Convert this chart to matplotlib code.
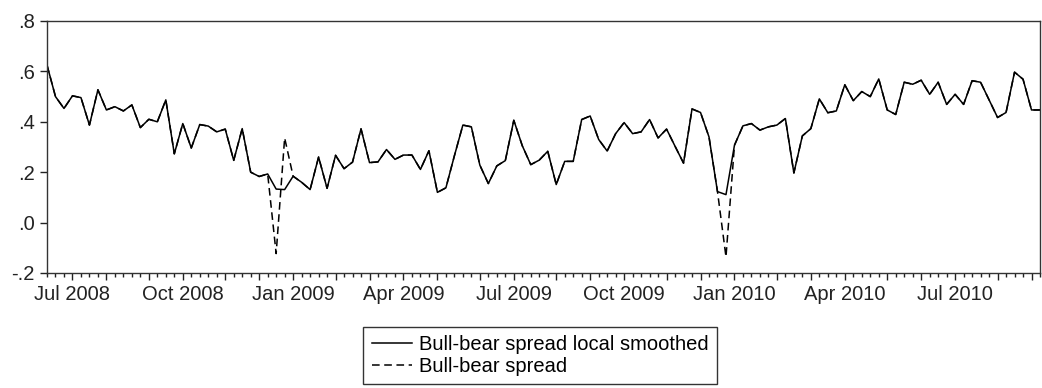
import numpy as np
import pandas as pd
import matplotlib
matplotlib.use("Agg")
import matplotlib.pyplot as plt

plt.rcParams['font.family'] = ['Liberation Sans', 'DejaVu Sans']

# weekly observations, first one on Friday 13 June 2008
start_date = '2008-06-13'
n_obs = 118

# local smoothed bull-bear spread
smoothed = [
    0.625, 0.500, 0.453, 0.503, 0.496, 0.387, 0.527, 0.447, 0.460, 0.443,
    0.467, 0.377, 0.410, 0.400, 0.487, 0.273, 0.393, 0.296, 0.389, 0.383,
    0.360, 0.371, 0.247, 0.373, 0.200, 0.183, 0.193, 0.133, 0.131, 0.184,
    0.160, 0.131, 0.260, 0.136, 0.267, 0.214, 0.240, 0.372, 0.238, 0.241,
    0.290, 0.251, 0.268, 0.268, 0.211, 0.285, 0.120, 0.138, 0.265, 0.387,
    0.380, 0.228, 0.155, 0.225, 0.246, 0.406, 0.305, 0.230, 0.248, 0.283,
    0.151, 0.243, 0.243, 0.409, 0.423, 0.330, 0.284, 0.353, 0.397, 0.353,
    0.360, 0.409, 0.336, 0.371, 0.303, 0.236, 0.451, 0.437, 0.340, 0.123,
    0.111, 0.307, 0.384, 0.393, 0.367, 0.380, 0.387, 0.413, 0.197, 0.344,
    0.373, 0.491, 0.436, 0.443, 0.547, 0.484, 0.520, 0.500, 0.570, 0.447,
    0.429, 0.557, 0.549, 0.565, 0.509, 0.557, 0.469, 0.509, 0.469, 0.563,
    0.557, 0.487, 0.417, 0.437, 0.597, 0.569, 0.447, 0.447,
]

# raw bull-bear spread
spread = [
    0.625, 0.500, 0.453, 0.503, 0.496, 0.387, 0.527, 0.447, 0.460, 0.443,
    0.467, 0.377, 0.410, 0.400, 0.487, 0.273, 0.393, 0.296, 0.389, 0.383,
    0.360, 0.371, 0.247, 0.373, 0.200, 0.183, 0.193, -0.123, 0.336, 0.184,
    0.160, 0.131, 0.260, 0.136, 0.267, 0.214, 0.240, 0.372, 0.238, 0.241,
    0.290, 0.251, 0.268, 0.268, 0.211, 0.285, 0.120, 0.138, 0.265, 0.387,
    0.380, 0.228, 0.155, 0.225, 0.246, 0.406, 0.305, 0.230, 0.248, 0.283,
    0.151, 0.243, 0.243, 0.409, 0.423, 0.330, 0.284, 0.353, 0.397, 0.353,
    0.360, 0.409, 0.336, 0.371, 0.303, 0.236, 0.451, 0.437, 0.340, 0.123,
    -0.136, 0.307, 0.384, 0.393, 0.367, 0.380, 0.387, 0.413, 0.197, 0.344,
    0.373, 0.491, 0.436, 0.443, 0.547, 0.484, 0.520, 0.500, 0.570, 0.447,
    0.429, 0.557, 0.549, 0.565, 0.509, 0.557, 0.469, 0.509, 0.469, 0.563,
    0.557, 0.487, 0.417, 0.437, 0.597, 0.569, 0.447, 0.447,
]

y_ticks = [-0.2, 0.0, 0.2, 0.4, 0.6, 0.8]
y_labels = ['-.2', '.0', '.2', '.4', '.6', '.8']
label_months = [1, 4, 7, 10]

dates = pd.date_range(start_date, periods=n_obs, freq='7D')
x = np.arange(n_obs)

# first observation of every month gets a major tick
month_start = [i for i in range(1, n_obs) if dates[i].month != dates[i - 1].month]
month_labels = [dates[i].strftime('%b %Y') if dates[i].month in label_months else ''
                for i in month_start]

fig = plt.figure(figsize=(10.42, 3.88), dpi=100)
ax = fig.add_axes([47 / 1042, 1 - 273 / 388, 993 / 1042, 252 / 388])

ln_raw, = ax.plot(x, spread, color='black', lw=1.1, linestyle=(0, (5, 3)),
                  label='Bull-bear spread')
ln_smooth, = ax.plot(x, smoothed, color='black', lw=1.1,
                     label='Bull-bear spread local smoothed')

ax.set_xlim(0, n_obs - 1)
ax.set_ylim(-0.2, 0.8)

ax.set_yticks(y_ticks)
ax.set_yticklabels(y_labels)
ax.set_xticks(month_start)
ax.set_xticklabels(month_labels)
ax.set_xticks(x, minor=True)

ax.tick_params(axis='both', which='major', direction='out', labelsize=14.5,
               colors='#222222', width=1.0, pad=4)
ax.tick_params(axis='x', which='major', length=5)
ax.tick_params(axis='y', which='major', length=5)
ax.tick_params(axis='x', which='minor', direction='out', length=3, width=1.0,
               colors='#222222')
ax.tick_params(top=False, right=False)

for sp in ax.spines.values():
    sp.set_color('#333333')
    sp.set_linewidth(1.0)

leg = fig.legend(handles=[ln_smooth, ln_raw], loc='upper center',
                 bbox_to_anchor=(540 / 1042, 1 - 327 / 388), borderaxespad=0,
                 fontsize=14.5, frameon=True, fancybox=False, framealpha=1,
                 edgecolor='#333333', handlelength=2.0, handletextpad=0.35,
                 labelspacing=0.15, borderpad=0.4)
leg.get_frame().set_linewidth(1.0)

fig.savefig('out.png', dpi=100)
